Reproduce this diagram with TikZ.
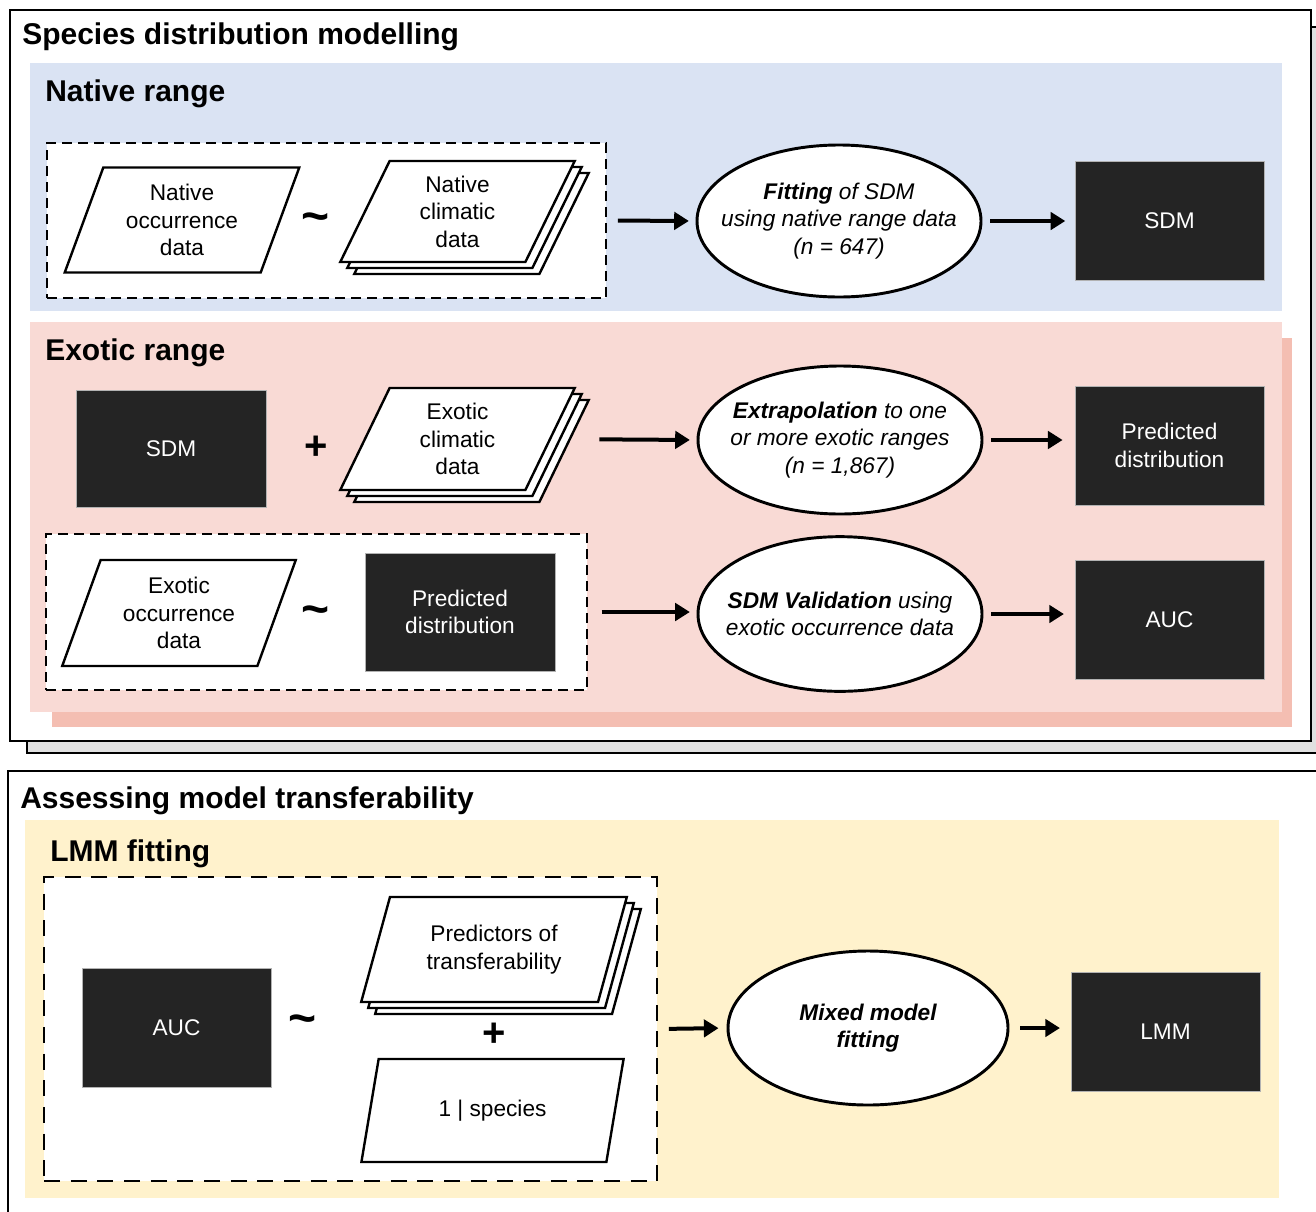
\documentclass[tikz,border=0pt]{standalone}
\usepackage{fontspec}
\setmainfont{Liberation Sans}
\usetikzlibrary{shapes.geometric,shadows,arrows.meta}

\definecolor{nativeblue}{RGB}{218,227,243}
\definecolor{exoticpink}{RGB}{249,218,213}
\definecolor{exoticshade}{RGB}{244,190,178}
\definecolor{lmmyellow}{RGB}{255,242,204}
\definecolor{boxblack}{RGB}{36,36,36}

\tikzset{
  txt/.style={font=\fontsize{17pt}{20.6pt}\selectfont, align=center},
  heading/.style={anchor=base west, inner sep=0pt, font=\fontsize{22.5pt}{26pt}\selectfont\bfseries},
  databox/.style={txt, trapezium, trapezium left angle=69, trapezium right angle=111,
    trapezium stretches=true, draw, fill=white, line width=1.8pt, inner sep=0pt},
  stackbox/.style={databox,
    copy shadow={shadow xshift=10.5pt, shadow yshift=-9pt, draw, fill=white, line width=1.8pt},
    copy shadow={shadow xshift=5.25pt, shadow yshift=-4.5pt, draw, fill=white, line width=1.8pt}},
  resbox/.style={txt, rectangle, fill=boxblack, draw=gray!60, line width=0.6pt, text=white,
    minimum width=141.75pt, minimum height=89.25pt},
  procbox/.style={txt, ellipse, draw, fill=white, line width=2.2pt, inner xsep=-16pt, inner ysep=0pt,
    font=\fontsize{17pt}{20.6pt}\selectfont\itshape},
  groupbox/.style={rectangle, draw, fill=white, line width=1.8pt, dash pattern=on 7.5pt off 4.5pt},
  flow/.style={-{Triangle[length=11pt,width=13pt]}, line width=3pt},
  opsign/.style={inner sep=0pt, font=\fontsize{30pt}{30pt}\selectfont\bfseries},
  tildesign/.style={inner sep=0pt, font=\fontsize{36pt}{36pt}\selectfont\bfseries},
}

\begin{document}
\begin{tikzpicture}[x=0.75pt,y=0.75pt,yscale=-1,xscale=1]
\useasboundingbox (0,0) rectangle (1316,1211);
\clip (0,0) rectangle (1316,1211);

% frames
\draw [line width=2pt, fill=black!12] (27,27) rectangle (1330,753);
\draw [line width=2pt, fill=white] (10,10) rectangle (1311,741);
\draw [line width=2pt] (8,771) rectangle (1330,1230);

\node [heading] (sdmtitle) at (22,44) {Species distribution modelling};
\node [heading] (lmmtitle) at (20,808) {Assessing model transferability};

% native range
\fill [nativeblue] (30,63) rectangle (1282,311);
\node [heading] (nattitle) at (45,101) {Native range};

\node [groupbox, minimum width=419.25pt, minimum height=116.25pt] (natgrp) at (326.5,220.5) {};
\node [databox, minimum width=176.25pt, minimum height=78.75pt] (natocc) at (182,220) {Native\\occurrence\\data};
\node [tildesign] (tilde1) at (316,223) {\textasciitilde};
\node [stackbox, minimum width=176.25pt, minimum height=75.75pt] (natclim) at (457.5,211.5) {Native\\climatic\\data};

\node [procbox, minimum width=213pt, minimum height=114pt] (fitsdm) at (839,221)
  {{\bfseries Fitting} of SDM\\using native range data\\(n = 647)};
\node [resbox] (sdm1) at (1169.5,220.5) {SDM};

\draw [flow, shorten <=8pt, shorten >=5pt] (natgrp.east) -- (fitsdm.west);
\draw [flow, shorten <=6pt, shorten >=7pt] (fitsdm.east) -- (fitsdm.east -| sdm1.west);

% exotic range
\fill [exoticshade] (52,338) rectangle (1292,727);
\fill [exoticpink] (30,322) rectangle (1282,712);
\node [heading] (extitle) at (45,360) {Exotic range};

\node [resbox, minimum width=142.5pt, minimum height=87.75pt] (sdm2) at (171,448.5) {SDM};
\node [opsign] (plus1) at (316,448) {+};
\node [stackbox, minimum width=176.25pt, minimum height=76.5pt] (exclim) at (457.5,439) {Exotic\\climatic\\data};

\node [procbox, minimum width=213pt, minimum height=111pt] (extrap) at (840,440)
  {{\bfseries Extrapolation} to one\\or more exotic ranges\\(n = 1,867)};
\node [resbox] (pred1) at (1169.5,445.5) {Predicted\\distribution};

\draw [flow, shorten <=36pt, shorten >=5pt] (exclim.east) -- (extrap.west);
\draw [flow, shorten <=6pt, shorten >=9pt] (extrap.east) -- (extrap.east -| pred1.west);

\node [groupbox, minimum width=405.75pt, minimum height=117pt] (exgrp) at (316.5,612) {};
\node [databox, minimum width=175.5pt, minimum height=79.5pt] (exocc) at (179,613) {Exotic\\occurrence\\data};
\node [tildesign] (tilde2) at (316,616) {\textasciitilde};
\node [resbox, minimum width=142.5pt, minimum height=88.5pt] (pred2) at (460,612) {Predicted\\distribution};

\node [procbox, minimum width=213pt, minimum height=116pt] (valid) at (840,614)
  {{\bfseries SDM Validation} using\\exotic occurrence data};
\node [resbox] (auc1) at (1169.5,619.5) {AUC};

\draw [flow, shorten <=10pt, shorten >=5pt] (exgrp.east) -- (exgrp.east -| valid.west);
\draw [flow, shorten <=6pt, shorten >=8pt] (valid.east) -- (valid.east -| auc1.west);

% LMM fitting
\fill [lmmyellow] (25,820) rectangle (1279,1198);
\node [heading] (lmmfit) at (50,861) {LMM fitting};

\node [groupbox, minimum width=459.75pt, minimum height=228pt, dash pattern=on 12pt off 8pt] (lmmgrp) at (350.5,1029) {};
\node [resbox] (auc2) at (176.5,1027.5) {AUC};
\node [tildesign] (tilde3) at (303,1025) {\textasciitilde};
\node [stackbox, minimum width=199.5pt, minimum height=78.75pt] (predict) at (494,949.5) {Predictors of\\transferability};
\node [opsign] (plus2) at (494,1035) {+};
\node [databox, minimum width=197.25pt, minimum height=77.25pt] (species) at (492.5,1110.5) {1 | species};

\node [procbox, minimum width=210pt, minimum height=115.5pt, font=\fontsize{17pt}{20.6pt}\selectfont\itshape\bfseries] (mixed) at (868,1028)
  {Mixed model\\fitting};
\node [resbox] (lmm) at (1165.5,1031.5) {LMM};

\draw [flow, shorten <=8pt, shorten >=6pt] (lmmgrp.east) -- (mixed.west);
\draw [flow, shorten <=8pt, shorten >=8pt] (mixed.east) -- (mixed.east -| lmm.west);

\end{tikzpicture}
\end{document}
